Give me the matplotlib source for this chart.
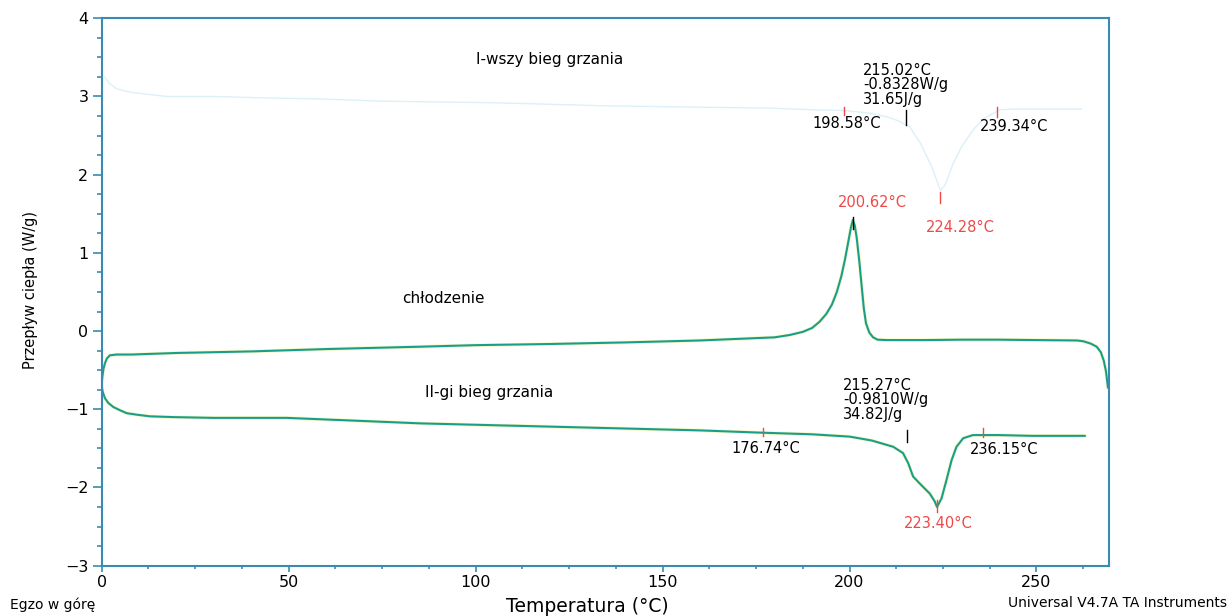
import numpy as np
import matplotlib.pyplot as plt
from matplotlib.ticker import MultipleLocator

plt.rcParams['font.family'] = ['DejaVu Sans']

# I-wszy bieg grzania (first heating, very faint trace)
h1_T = [0.8, 2, 4, 7, 10.3, 17.4, 30, 45, 58, 75, 90, 105, 120, 135, 150, 165, 180, 190,
        198.6, 205, 210, 213, 216.1, 219, 222, 224.3, 225.5, 227.7, 230, 233, 236, 240.2,
        245, 252, 262]
h1_v = [3.25, 3.17, 3.1, 3.06, 3.04, 3.0, 3.0, 2.98, 2.97, 2.94, 2.93, 2.92, 2.9, 2.88, 2.87,
        2.86, 2.85, 2.83, 2.82, 2.79, 2.74, 2.69, 2.61, 2.4, 2.1, 1.8, 1.86, 2.14, 2.36, 2.57,
        2.72, 2.83, 2.84, 2.84, 2.84]

# chlodzenie (cooling, from high to low temperature)
cool_T = [269.1, 268.6, 268.0, 267.2, 266.1, 264.5, 262.5, 260.8, 250, 240, 230, 220, 210,
          207.5, 206.3, 205.3, 204.4, 203.8, 203.3, 202.6, 201.9, 201.4, 200.9, 200.4, 199.7,
          198.8, 197.8, 196.6, 195.3, 193.8, 192.0, 190.0, 187.5, 184, 180, 170, 160, 140,
          120, 100, 85, 60, 40, 20, 8, 4, 2.2, 1.4, 0.9, 0.5, 0.2, 0.0]
cool_v = [-0.72, -0.52, -0.38, -0.27, -0.20, -0.16, -0.13, -0.12, -0.115, -0.11, -0.11, -0.115,
          -0.115, -0.11, -0.08, -0.02, 0.1, 0.3, 0.55, 0.9, 1.2, 1.35, 1.42, 1.33, 1.15, 0.92,
          0.7, 0.5, 0.34, 0.22, 0.12, 0.04, -0.01, -0.05, -0.08, -0.10, -0.12, -0.145, -0.165,
          -0.18, -0.20, -0.23, -0.26, -0.28, -0.30, -0.30, -0.31, -0.35, -0.41, -0.48, -0.58,
          -0.68]

# II-gi bieg grzania (second heating)
h2_T = [0.0, 0.3, 0.9, 1.8, 3.1, 4.8, 6.7, 9.5, 12.9, 19.1, 30, 49.5, 70, 85.1, 110, 135, 160,
        176.9, 190, 200.1, 206, 211.7, 214.3, 215.7, 217.0, 219.2, 221.5, 222.8, 223.4, 224.6,
        225.9, 227.3, 228.6, 230.4, 233.0, 235.6, 240, 249, 256, 262.9]
h2_v = [-0.70, -0.78, -0.86, -0.92, -0.97, -1.01, -1.05, -1.07, -1.09, -1.10, -1.11, -1.11,
        -1.15, -1.18, -1.21, -1.24, -1.27, -1.30, -1.32, -1.35, -1.40, -1.48, -1.56, -1.69,
        -1.86, -1.97, -2.08, -2.18, -2.25, -2.14, -1.91, -1.65, -1.48, -1.37, -1.33, -1.33,
        -1.33, -1.34, -1.34, -1.34]

# analysis results
h1_onset, h1_end, h1_peak, h1_mid = 198.58, 239.34, 224.28, 215.02
h1_heatflow, h1_enthalpy = -0.8328, 31.65
cool_peak = 200.62
h2_onset, h2_end, h2_peak, h2_mid = 176.74, 236.15, 223.40, 215.27
h2_heatflow, h2_enthalpy = -0.9810, 34.82

fig = plt.figure(figsize=(12.32, 6.16), dpi=100)
ax = fig.add_axes([0.0825, 0.0817, 0.818, 0.8886])

green = '#1a9e8c'
red = '#f04848'
spine = '#3a8bb0'

ax.plot(h1_T, h1_v, color='#dcf0f7', lw=1.0)
for T, v in ((cool_T, cool_v), (h2_T, h2_v)):
    ax.plot(T, v, color='#f0f08a', lw=2.6, alpha=0.5)
    ax.plot(T, v, color=green, lw=1.5)

ax.set_xlim(0, 269.5)
ax.set_ylim(-3, 4)
ax.xaxis.set_major_locator(MultipleLocator(50))
ax.xaxis.set_minor_locator(MultipleLocator(12.5))
ax.yaxis.set_major_locator(MultipleLocator(1))
ax.yaxis.set_minor_locator(MultipleLocator(0.25))
for s in ax.spines.values():
    s.set_color(spine)
    s.set_linewidth(1.5)
ax.tick_params(axis='both', which='both', direction='out', color=spine, width=1.2)
ax.tick_params(axis='y', which='major', length=6.5, pad=3, labelsize=11.5)
ax.tick_params(axis='y', which='minor', length=3.5)
ax.tick_params(axis='x', which='major', length=4.5, pad=2, labelsize=11.5)
ax.tick_params(axis='x', which='minor', length=2.5)

ax.set_ylabel('Przepływ ciepła (W/g)', fontsize=10.5)
ax.yaxis.set_label_coords(-0.063, 0.504)
ax.set_xlabel('Temperatura (°C)', fontsize=13.5)
ax.xaxis.set_label_coords(0.482, -0.058)

fs = 10.5
# curve names
ax.text(119.9, 3.47, 'I-wszy bieg grzania', fontsize=11, ha='center', va='center')
ax.text(91.3, 0.42, 'chłodzenie', fontsize=11, ha='center', va='center')
ax.text(103.6, -0.78, 'II-gi bieg grzania', fontsize=11, ha='center', va='center')

# first heating
ax.plot([h1_onset, h1_onset], [2.76, 2.87], color=red, lw=1)
ax.plot([h1_end, h1_end], [2.74, 2.86], color=red, lw=1)
ax.plot([h1_peak, h1_peak], [1.64, 1.78], color=red, lw=1)
ax.plot([h1_mid, h1_mid], [2.63, 2.83], color='k', lw=1)
ax.text(190.2, 2.65, f'{h1_onset:.2f}°C', fontsize=fs, va='center')
ax.text(234.9, 2.62, f'{h1_end:.2f}°C', fontsize=fs, va='center')
ax.text(229.5, 1.33, f'{h1_peak:.2f}°C', fontsize=fs, ha='center', va='center', color=red)
ax.text(203.6, 3.15, f'{h1_mid:.2f}°C\n{h1_heatflow:.4f}W/g\n{h1_enthalpy:.2f}J/g',
        fontsize=fs, va='center', linespacing=0.95)

# cooling
ax.plot([200.9, 200.9], [1.3, 1.46], color='k', lw=1)
ax.text(206, 1.65, f'{cool_peak:.2f}°C', fontsize=fs, ha='center', va='center', color=red)

# second heating
ax.plot([176.9, 176.9], [-1.24, -1.34], color=red, lw=1)
ax.plot([235.7, 235.7], [-1.24, -1.36], color=red, lw=1)
ax.plot([h2_peak, h2_peak], [-2.16, -2.31], color=red, lw=1)
ax.plot([h2_mid, h2_mid], [-1.27, -1.42], color='k', lw=1)
ax.text(168.5, -1.50, f'{h2_onset:.2f}°C', fontsize=fs, va='center')
ax.text(232.2, -1.52, f'{h2_end:.2f}°C', fontsize=fs, va='center')
ax.text(223.6, -2.46, f'{h2_peak:.2f}°C', fontsize=fs, ha='center', va='center', color=red)
ax.text(198.2, -0.88, f'{h2_mid:.2f}°C\n{h2_heatflow:.4f}W/g\n{h2_enthalpy:.2f}J/g',
        fontsize=fs, va='center', linespacing=0.95)

fig.text(0.008, 0.018, 'Egzo w górę', fontsize=10, va='center')
fig.text(0.996, 0.021, 'Universal V4.7A TA Instruments', fontsize=10, ha='right', va='center')

fig.savefig('out.png', dpi=100)
